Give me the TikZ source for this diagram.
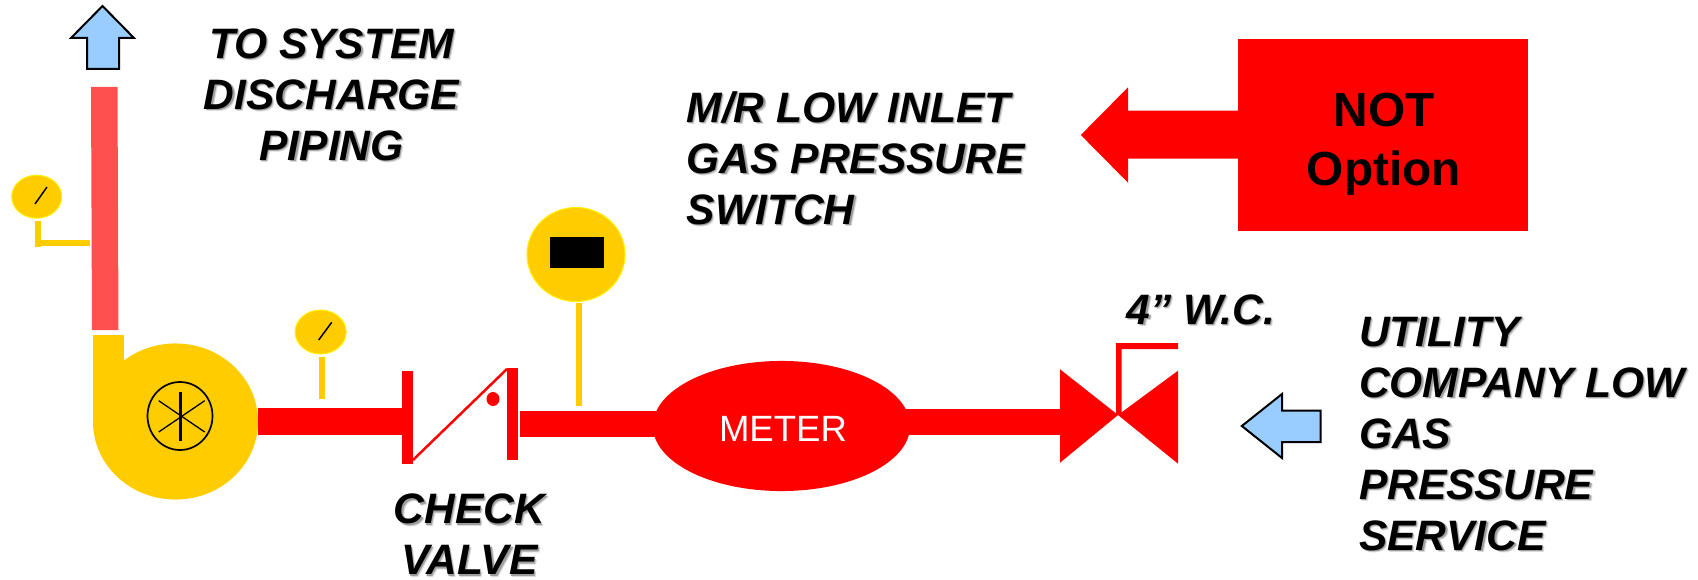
\documentclass[tikz,border=0pt]{standalone}
\usepackage{fontspec}
\setmainfont{Liberation Sans}
\usetikzlibrary{shapes.geometric}
\definecolor{gasred}{HTML}{FF0000}
\definecolor{ventred}{HTML}{FF5050}
\definecolor{gold}{HTML}{FFCC00}
\definecolor{skyblue}{HTML}{99CCFF}
\tikzset{
  pipe/.style={draw=gasred,line width=0.26cm},
  gauge/.style={ellipse,fill=gold,draw=yellow,line width=0.1mm,inner sep=0pt},
  needle/.style={draw=black,line width=0.15mm},
  tube/.style={fill=gold},
  flow/.style={fill=skyblue,draw=black,line width=0.2mm,miter limit=10},
  note/.style={font=\fontsize{12.1}{14.5}\selectfont\bfseries\itshape,inner sep=0pt},
}
\newcommand{\castnote}[4]{%
  \node[note,text=black!14,xshift=0.22mm,yshift=-0.22mm] (#2far) at #3 [#1] {#4};
  \node[note,text=black!38,xshift=0.12mm,yshift=-0.12mm] (#2near) at #3 [#1] {#4};
  \node[note] (#2) at #3 [#1] {#4};
}
\begin{document}
\begin{tikzpicture}[x=0.01cm,y=-0.01cm]
    \useasboundingbox (0,0) rectangle (1698,579);

    \draw[flow] (102.5,6) -- (134,38) -- (119,38) -- (119,69) -- (87,69) -- (87,38) -- (71,38) -- cycle;
    \fill[ventred] (91,87) -- (117.5,87) -- (118.5,330) -- (92,330) -- cycle;

    \node[gauge,minimum width=0.5cm,minimum height=0.43cm] (ventgauge) at (36.7,196.7) {};
    \draw[needle] (35,204) -- (47,187);
    \fill[tube] (35,221) rectangle (41,247);
    \fill[tube] (35,240) rectangle (90,246);

    \node[ellipse,fill=gold,inner sep=0pt,minimum width=1.65cm,minimum height=1.56cm] (pump) at (175.5,421.5) {};
    \fill[gold] (93,335) rectangle (124,421);
    \draw[black,line width=0.17mm] (180,416) ellipse (32.5 and 34);
    \draw[black,line width=0.27mm] (180.5,392) -- (180.5,441);
    \draw[black,line width=0.13mm] (158.7,400.7) -- (204.7,432);
    \draw[black,line width=0.13mm] (158.7,432) -- (204.7,400.7);

    \node[gauge,minimum width=0.51cm,minimum height=0.44cm] (suctiongauge) at (320.6,332) {};
    \draw[needle] (318.7,340) -- (331.7,322.3);
    \fill[tube] (319,357) rectangle (325,398.7);

    \coordinate (checkin) at (402,421.5);
    \coordinate (checkout) at (520,424);
    \coordinate (valvein) at (1060,422);
    \draw[pipe] ([xshift=-0.1mm]pump.east) -- (checkin);
    \fill[gasred] (402,370.7) rectangle (413,464);
    \fill[gasred] (507,368) rectangle (518,460);
    \draw[gasred,line width=0.25mm] (413,460) -- (507,369);
    \fill[gasred] (493,399) ellipse (6.5 and 7);

    \node[gauge,minimum width=0.98cm,minimum height=0.94cm] (switch) at (576,254.5) {};
    \fill[black] (550,237) rectangle (604,267.5);
    \fill[tube] (576,303) rectangle (582,405.7);

    \draw[pipe] (checkout) -- (781,424);
    \draw[pipe] (781,422) -- (valvein);
    \node[ellipse,fill=gasred,inner sep=0pt,minimum width=2.57cm,minimum height=1.3cm] (meter) at (781.5,426) {};
    \node[text=white,inner sep=0pt,font=\fontsize{10.4}{12}\selectfont] (meterlabel) at (783,428.5) {METER};

    \fill[gasred] (1060,369.3) -- (1118,415) -- (1060,462.7) -- cycle;
    \fill[gasred] (1178,370.7) -- (1118,415) -- (1178,463.7) -- cycle;
    \fill[gasred] (1116,415) -- (1116,343) -- (1178,343) -- (1178,349) -- (1121.5,349) -- (1121.5,415) -- cycle;

    \draw[flow] (1241.8,426) -- (1282,394) -- (1282,410.7) -- (1320.6,410.7) -- (1320.6,442) -- (1282,442) -- (1282,458) -- cycle;

    \node[rectangle,fill=gasred,inner sep=0pt,minimum width=2.9cm,minimum height=1.917cm] (option) at (1383,134.85) {};
    \node[inner sep=0pt,align=center,font=\fontsize{13.6}{16.8}\selectfont\bfseries] (optionlabel) at (1384,144) {NOT\\Option};
    \fill[gasred] (1080.8,135) -- (1128,87.3) -- (1128,110.7) -- (1238,110.7) -- (1238,158.7) -- (1128,158.7) -- (1128,182.7) -- cycle;

    \castnote{align=center}{discharge}{(331.6,94.5)}{TO SYSTEM\\DISCHARGE\\PIPING}
    \castnote{align=left,anchor=west}{inlet}{(686,158)}{M/R LOW INLET\\GAS PRESSURE\\SWITCH}
    \castnote{align=center}{check}{(469.5,534.5)}{CHECK\\VALVE}
    \castnote{}{column}{(1201,309.5)}{4” W.C.}
    \castnote{align=left,anchor=west}{utility}{(1358.4,434)}{UTILITY\\COMPANY LOW\\GAS\\PRESSURE\\SERVICE}
\end{tikzpicture}
\end{document}
